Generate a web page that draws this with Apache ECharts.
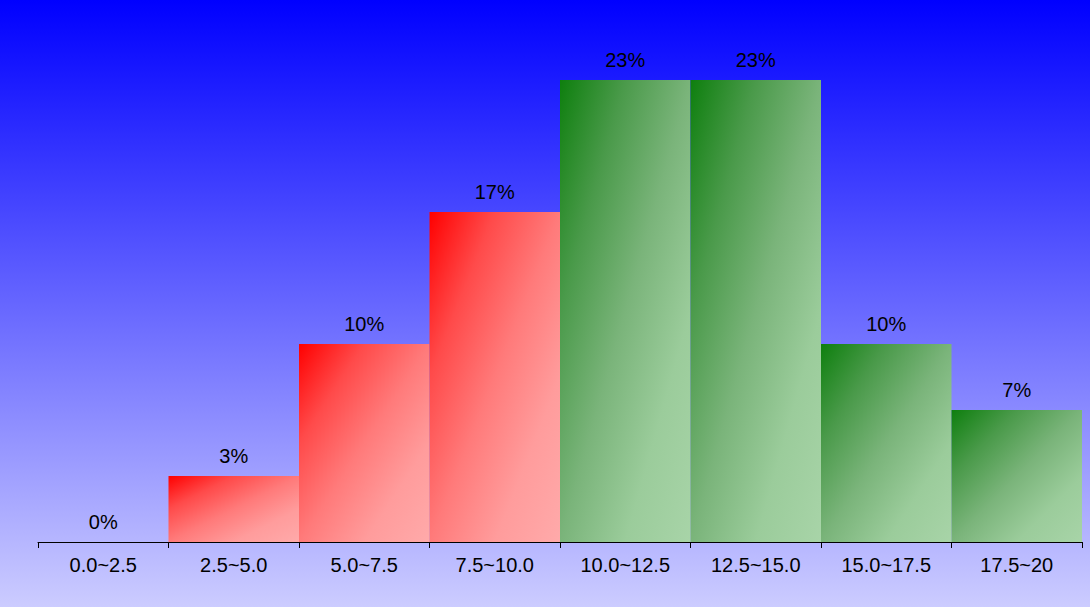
<!DOCTYPE html>
<html>
<head>
<meta charset="utf-8">
<script src="https://cdn.jsdelivr.net/npm/echarts@6/dist/echarts.min.js"></script>
<style>
  html, body { margin: 0; padding: 0; }
  #chart { width: 1090px; height: 607px; }
</style>
</head>
<body>
<div id="chart"></div>
<script>
// bins and share of samples (percent)
const categories = ['0.0~2.5', '2.5~5.0', '5.0~7.5', '7.5~10.0', '10.0~12.5', '12.5~15.0', '15.0~17.5', '17.5~20']
const percents = [0, 3.33, 10, 16.67, 23.33, 23.33, 10, 6.67]
const redBins = 4

// gradient stops: light colour is reached early, not linearly
const redStops = ['#ff0000', '#ff4a4a', '#ff7a7a', '#ff9c9c', '#ffaaaa']
const greenStops = ['#0e7f0e', '#4a9a4a', '#7ab47a', '#9bcc9b', '#a8d4a8']

function gradient(stops) {
  return new echarts.graphic.LinearGradient(0, 0, 1, 1,
    stops.map((c, i) => ({ offset: i / (stops.length - 1), color: c })))
}

// svg renderer keeps bar gradients in bounding-box units
const chart = echarts.init(document.getElementById('chart'), null, { renderer: 'svg' })

chart.setOption({
  animation: false,
  backgroundColor: new echarts.graphic.LinearGradient(0, 0, 0, 1, [
    { offset: 0, color: '#0000ff' },
    { offset: 1, color: '#ccccff' }
  ]),
  grid: { left: 38, right: 8, top: 14, bottom: 65 },
  xAxis: {
    type: 'category',
    data: categories,
    axisLine: { lineStyle: { color: '#000', width: 1 } },
    axisTick: { show: true, alignWithLabel: false, interval: 0, length: 6, lineStyle: { color: '#000' } },
    axisLabel: { color: '#000', fontSize: 20, fontFamily: 'Liberation Sans', margin: 13 }
  },
  yAxis: {
    type: 'value',
    min: 0,
    max: 26.67,
    show: false
  },
  series: [{
    type: 'bar',
    barCategoryGap: 0,
    data: percents.map((v, i) => ({
      value: v,
      itemStyle: { color: gradient(i < redBins ? redStops : greenStops) }
    })),
    label: {
      show: true,
      position: 'top',
      distance: 10,
      color: '#000',
      fontSize: 20,
      fontFamily: 'Liberation Sans',
      formatter: p => Math.round(p.value) + '%'
    }
  }]
})
</script>
</body>
</html>
